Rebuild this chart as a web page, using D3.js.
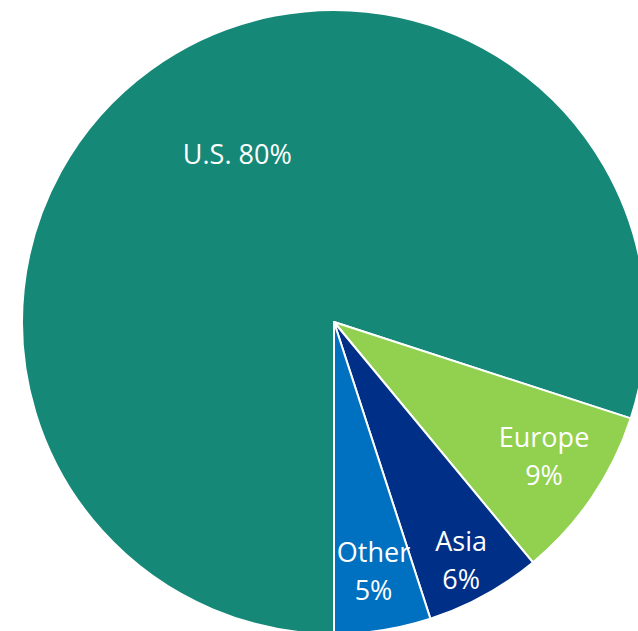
<!DOCTYPE html>
<html>
<head>
<meta charset="utf-8">
<script src="https://cdn.jsdelivr.net/npm/d3@7"></script>
<style>
  html, body { margin: 0; padding: 0; background: #fff; overflow: hidden; }
  svg { display: block; }
</style>
</head>
<body>
<svg id="chart" width="638" height="631"></svg>
<script>
// Regional share of total
const regions = ["U.S.", "Europe", "Asia", "Other"];
const shares = [80, 9, 6, 5];
const colors = ["#168878", "#92D050", "#002F87", "#0070C0"];

const width = 638, height = 631;
const cx = 334, cy = 322, radius = 312;

// label placement: distance from centre (fraction of radius) and angular nudge (degrees)
const labelPlace = {
  "U.S.":   { r: 0.62,  da: 6 },
  "Europe": { r: 0.80,  da: -1.5 },
  "Asia":   { r: 0.865, da: 0.7 },
  "Other":  { r: 0.81,  da: 0 }
};

const svg = d3.select("#chart");
const g = svg.append("g").attr("transform", `translate(${cx},${cy})`);

const data = regions.map((r, i) => ({ region: r, value: shares[i], color: colors[i] }));

const pie = d3.pie()
  .value(d => d.value)
  .sort(null)
  .startAngle(Math.PI)
  .endAngle(Math.PI * 3);

const arc = d3.arc().innerRadius(0).outerRadius(radius);
const arcs = pie(data);

g.selectAll("path.slice")
  .data(arcs)
  .enter().append("path")
  .attr("class", "slice")
  .attr("d", arc)
  .attr("fill", d => d.data.color)
  .attr("stroke", "#ffffff")
  .attr("stroke-width", 2)
  .attr("stroke-linejoin", "round");

const font = "'Open Sans', 'Noto Sans', sans-serif";

const labels = g.selectAll("g.label")
  .data(arcs)
  .enter().append("g")
  .attr("class", "label")
  .attr("transform", d => {
    const p = labelPlace[d.data.region];
    const a = (d.startAngle + d.endAngle) / 2 + p.da * Math.PI / 180;
    const r = radius * p.r;
    return `translate(${r * Math.sin(a)},${-r * Math.cos(a)})`;
  });

labels.each(function(d) {
  const sel = d3.select(this);
  const lines = d.data.region === "U.S."
    ? [`${d.data.region} ${d.data.value}%`]
    : [d.data.region, `${d.data.value}%`];
  const lh = 38;
  const top = -(lines.length - 1) * lh / 2;
  lines.forEach((t, i) => {
    sel.append("text")
      .attr("x", 0)
      .attr("y", top + i * lh)
      .attr("dy", "0.35em")
      .attr("text-anchor", "middle")
      .attr("fill", "#ffffff")
      .style("font-family", font)
      .style("font-size", "27px")
      .text(t);
  });
});
</script>
</body>
</html>
